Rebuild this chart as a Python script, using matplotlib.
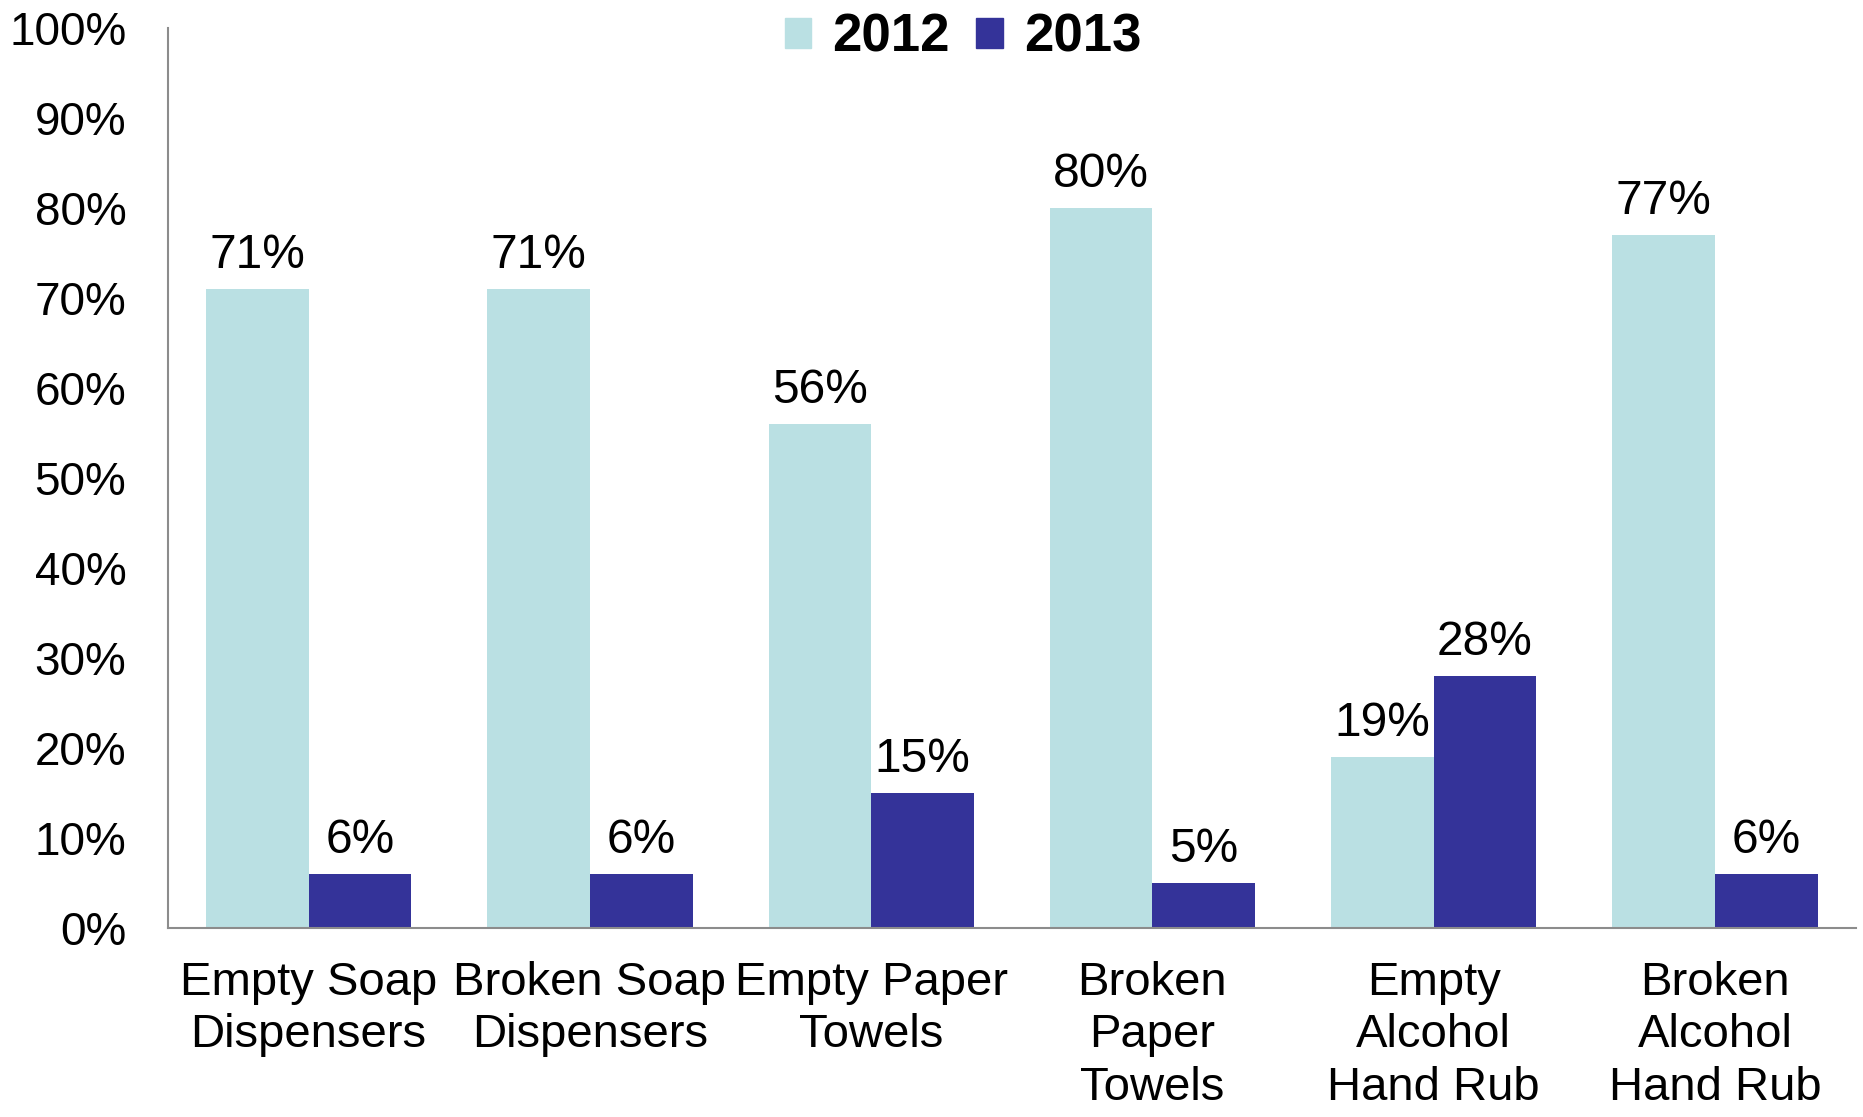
import numpy as np
import matplotlib
matplotlib.use("Agg")
import matplotlib.pyplot as plt
from matplotlib.patches import Patch

plt.rcParams['font.family'] = ['Liberation Sans', 'DejaVu Sans']

categories = ['Empty Soap\nDispensers', 'Broken Soap\nDispensers', 'Empty Paper\nTowels',
              'Broken\nPaper\nTowels', 'Empty\nAlcohol\nHand Rub', 'Broken\nAlcohol\nHand Rub']
vals_2012 = [71, 71, 56, 80, 19, 77]
vals_2013 = [6, 6, 15, 5, 28, 6]
series_names = ['2012', '2013']
colors = ['#BAE0E3', '#343399']

fig = plt.figure(figsize=(18.63, 11.17), dpi=100)
ax = fig.add_axes([0.0902, 0.1692, 0.9058, 0.8058])

x = np.arange(len(categories))
w = 0.365
b1 = ax.bar(x - w / 2, vals_2012, w, color=colors[0])
b2 = ax.bar(x + w / 2, vals_2013, w, color=colors[1])

for bars, vals in [(b1, vals_2012), (b2, vals_2013)]:
    for rect, v in zip(bars, vals):
        ax.annotate('%d%%' % v, (rect.get_x() + rect.get_width() / 2, rect.get_height()),
                    xytext=(0, 8), textcoords='offset points',
                    ha='center', va='bottom', fontsize=34.5)

ax.set_xlim(-0.5, len(categories) - 0.5)
ax.set_ylim(0, 100)
ax.set_yticks(range(0, 101, 10))
ax.set_yticklabels(['%d%%' % t for t in range(0, 101, 10)], fontsize=33)
ax.set_xticks(x)
# slightly tighter than the reference so the 3-line labels stay inside the figure
ax.set_xticklabels(categories, fontsize=34, linespacing=1.24)
ax.tick_params(axis='both', length=0)
ax.tick_params(axis='y', pad=30)
ax.tick_params(axis='x', pad=24)

for s in ['top', 'right']:
    ax.spines[s].set_visible(False)
for s in ['left', 'bottom']:
    ax.spines[s].set_color('#8C8C8C')
    ax.spines[s].set_linewidth(1.5)

handles = [Patch(color=c, label=n) for c, n in zip(colors, series_names)]
fig.legend(handles=handles, loc='center', bbox_to_anchor=(0.517, 0.966), ncol=2,
           frameon=False, prop={'size': 38, 'weight': 'bold'},
           handlelength=0.5, handleheight=0.5, handletextpad=0.4, columnspacing=0.5)

fig.savefig('out.png', dpi=100)
